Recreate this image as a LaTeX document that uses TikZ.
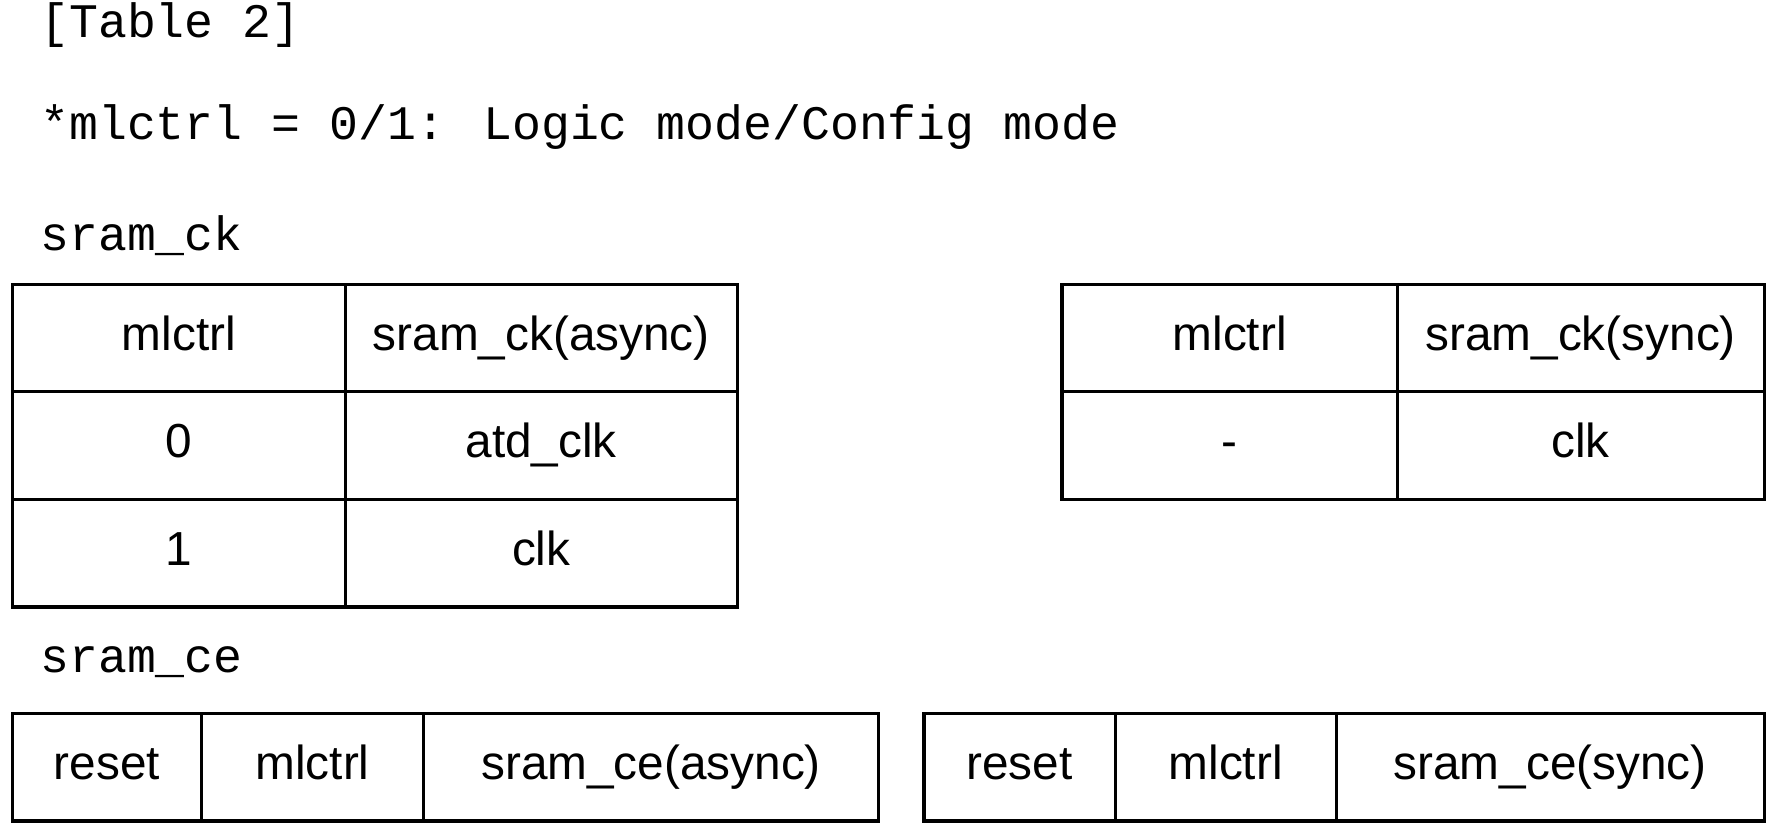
\documentclass[tikz,border=0pt]{standalone}
\usepackage{fontspec}
\setmainfont{Liberation Sans}
\newfontfamily\monofont{Liberation Mono}
\begin{document}
\begin{tikzpicture}
	\tikzstyle{cell}=[rectangle,draw,line width=0.8pt,inner sep=0pt,minimum height=0.95cm,text height=0.72em,text depth=0.1em,font=\fontsize{12pt}{14pt}\selectfont]
	\tikzstyle{caption}=[anchor=west,inner sep=0pt,font=\monofont\fontsize{12.1pt}{14pt}\selectfont]
	\useasboundingbox (0,0) rectangle (15.65,-7.30);
	
	\node[caption] at (0.35,-0.22) (title) {[Table 2]};
	\node[caption] at (0.35,-1.12) (note) {*mlctrl = 0/1: Logic mode/Config mode};
	\node[caption] at (0.35,-2.08) (ckcap) {sram\_ck};
	\node[caption] at (0.35,-5.85) (cecap) {sram\_ce};
	
	% sram_ck (async)
	\node[cell,minimum width=2.94cm] at (1.58,-2.985) (a11) {mlctrl};
	\node[cell,minimum width=3.46cm] at (4.78,-2.985) (a12) {sram\_ck(async)};
	\node[cell,minimum width=2.94cm] at (1.58,-3.935) (a21) {0};
	\node[cell,minimum width=3.46cm] at (4.78,-3.935) (a22) {atd\_clk};
	\node[cell,minimum width=2.94cm] at (1.58,-4.885) (a31) {1};
	\node[cell,minimum width=3.46cm] at (4.78,-4.885) (a32) {clk};
	
	% sram_ck (sync)
	\node[cell,minimum width=2.96cm] at (10.86,-2.985) (b11) {mlctrl};
	\node[cell,minimum width=3.24cm] at (13.96,-2.985) (b12) {sram\_ck(sync)};
	\node[cell,minimum width=2.96cm] at (10.86,-3.935) (b21) {-};
	\node[cell,minimum width=3.24cm] at (13.96,-3.935) (b22) {clk};
	
	% sram_ce (async)
	\node[cell,minimum width=1.67cm] at (0.945,-6.775) (c11) {reset};
	\node[cell,minimum width=1.96cm] at (2.76,-6.775) (c12) {mlctrl};
	\node[cell,minimum width=4.02cm] at (5.75,-6.775) (c13) {sram\_ce(async)};
	
	% sram_ce (sync)
	\node[cell,minimum width=1.69cm] at (9.005,-6.775) (d11) {reset};
	\node[cell,minimum width=1.95cm] at (10.825,-6.775) (d12) {mlctrl};
	\node[cell,minimum width=3.78cm] at (13.69,-6.775) (d13) {sram\_ce(sync)};
\end{tikzpicture}
\end{document}
